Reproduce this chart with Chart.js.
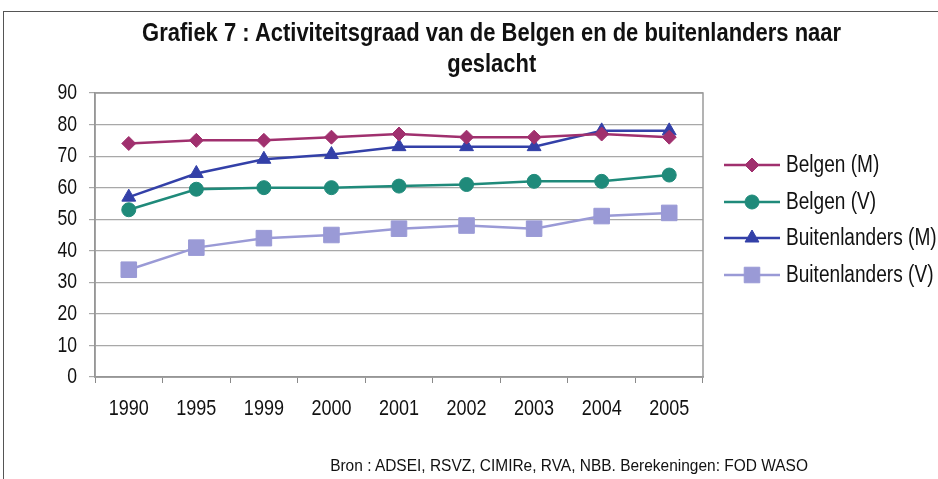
<!DOCTYPE html>
<html>
<head>
<meta charset="utf-8">
<script src="https://cdn.jsdelivr.net/npm/chart.js@4/dist/chart.umd.min.js"></script>
<style>
  html, body { margin: 0; padding: 0; background: #fff; }
  #wrap { position: relative; width: 938px; height: 479px; overflow: hidden; }
  #frame { position: absolute; left: 3px; top: 11px; right: -2px; bottom: -2px;
           border-top: 1px solid #555; border-left: 1px solid #555; }
  #chart { position: absolute; left: 0; top: 0; }
  .txt { position: absolute; white-space: nowrap; color: #111; line-height: 1;
         font-family: "Liberation Sans", Arial, sans-serif; transform-origin: 50% 50%; }
  .title { font-size: 25px; font-weight: bold; }
  .bron { font-size: 16px; }
</style>
</head>
<body>
<div id="wrap">
  <div id="frame"></div>
  <canvas id="chart" width="938" height="479"></canvas>
  <div class="txt title" data-cx="492" data-cy="32" data-w="699">Grafiek 7 : Activiteitsgraad van de Belgen en de buitenlanders naar</div>
  <div class="txt title" data-cx="492" data-cy="63" data-w="89">geslacht</div>
  <div class="txt bron" data-cx="569" data-cy="466" data-w="478">Bron : ADSEI, RSVZ, CIMIRe, RVA, NBB. Berekeningen: FOD WASO</div>
</div>
<script>
const years = ['1990', '1995', '1999', '2000', '2001', '2002', '2003', '2004', '2005'];

const belgenM = [74, 75, 75, 76, 77, 76, 76, 77, 76];
const belgenV = [53, 59.5, 60, 60, 60.5, 61, 62, 62, 64];
const buitenM = [57, 64.5, 69, 70.5, 73, 73, 73, 78, 78];
const buitenV = [34, 41, 44, 45, 47, 48, 47, 51, 52];

const seriesNames = ['Belgen (M)', 'Belgen (V)', 'Buitenlanders (M)', 'Buitenlanders (V)'];

const sans = '"Liberation Sans", Arial, sans-serif';

// squeeze the html labels to a narrow look and centre them
document.querySelectorAll('.txt').forEach(el => {
  const r = el.getBoundingClientRect();
  const k = (+el.dataset.w) / r.width;
  el.style.left = (+el.dataset.cx - r.width / 2) + 'px';
  el.style.top = (+el.dataset.cy - r.height / 2) + 'px';
  el.style.transform = 'scaleX(' + k.toFixed(3) + ')';
});

function narrowText(ctx, text, x, y, size, k, align) {
  ctx.save();
  ctx.font = size + 'px ' + sans;
  ctx.fillStyle = '#111';
  ctx.textAlign = align;
  ctx.textBaseline = 'middle';
  ctx.translate(x, y);
  ctx.scale(k, 1);
  ctx.fillText(text, 0, 0);
  ctx.restore();
}

function series(label, data, color, style, radius) {
  return {
    label: label,
    data: data,
    borderColor: color,
    backgroundColor: color,
    borderWidth: 2.5,
    pointStyle: style,
    pointRadius: radius,
    pointHoverRadius: radius,
    pointBorderWidth: 1,
    tension: 0
  };
}

// box round the plot area
const plotBox = {
  id: 'plotBox',
  beforeDatasetsDraw(chart) {
    const a = chart.chartArea;
    const ctx = chart.ctx;
    ctx.save();
    ctx.strokeStyle = '#9a9a9a';
    ctx.lineWidth = 1.5;
    ctx.strokeRect(a.left, a.top, a.right - a.left, a.bottom - a.top);
    ctx.restore();
  }
};

// tick labels in a condensed face, placed by the scales
const narrowTicks = {
  id: 'narrowTicks',
  afterDraw(chart) {
    const ctx = chart.ctx;
    const xs = chart.scales.x, ys = chart.scales.y;
    xs.ticks.forEach((t, i) => {
      narrowText(ctx, xs.getLabelForValue(t.value), xs.getPixelForTick(i), 409, 22.5, 0.8, 'center');
    });
    ys.ticks.forEach((t, i) => {
      narrowText(ctx, String(t.value), 77, ys.getPixelForTick(i), 22, 0.8, 'right');
    });
  }
};

// legend with a short line through each marker
const lineLegend = {
  id: 'lineLegend',
  afterDraw(chart) {
    const ctx = chart.ctx;
    const x0 = 724, x1 = 780, tx = 786;
    const ys = [165, 202, 238, 275];
    chart.data.datasets.forEach((ds, i) => {
      const y = ys[i];
      ctx.save();
      ctx.strokeStyle = ds.borderColor;
      ctx.lineWidth = 2.5;
      ctx.beginPath();
      ctx.moveTo(x0, y);
      ctx.lineTo(x1, y);
      ctx.stroke();
      ctx.fillStyle = ds.backgroundColor;
      ctx.lineWidth = 1;
      Chart.helpers.drawPoint(ctx, { pointStyle: ds.pointStyle, radius: ds.pointRadius, borderWidth: 1, rotation: 0 }, (x0 + x1) / 2, y);
      ctx.restore();
      narrowText(ctx, ds.label, tx, y + 1, 23, 0.83, 'left');
    });
  }
};

new Chart(document.getElementById('chart'), {
  type: 'line',
  data: {
    labels: years,
    datasets: [
      series(seriesNames[0], belgenM, '#a0306e', 'rectRot', 7),
      series(seriesNames[1], belgenV, '#1f8a7a', 'circle', 7),
      series(seriesNames[2], buitenM, '#3340a8', 'triangle', 8),
      series(seriesNames[3], buitenV, '#9a9ad6', 'rect', 11)
    ]
  },
  options: {
    responsive: false,
    animation: false,
    layout: { padding: { left: 0, right: 235, top: 93, bottom: 0 } },
    plugins: {
      legend: { display: false },
      tooltip: { enabled: false },
      title: { display: false }
    },
    scales: {
      x: {
        offset: true,
        grid: { display: true, drawOnChartArea: false, drawTicks: true, tickLength: 6, color: '#8a8a8a', offset: true },
        border: { color: '#8a8a8a', width: 1.5 },
        ticks: { color: 'rgba(0,0,0,0)', font: { size: 19 }, padding: 14, maxRotation: 0 },
        afterFit(s) { s.height = 102; }
      },
      y: {
        min: 0,
        max: 90,
        grid: { color: '#a8a8a8', lineWidth: 1.2, tickLength: 6 },
        border: { color: '#8a8a8a', width: 1.5 },
        ticks: { stepSize: 10, color: 'rgba(0,0,0,0)', font: { size: 19 }, padding: 9 },
        afterFit(s) { s.width = 95; }
      }
    }
  },
  plugins: [plotBox, narrowTicks, lineLegend]
});
</script>
</body>
</html>
